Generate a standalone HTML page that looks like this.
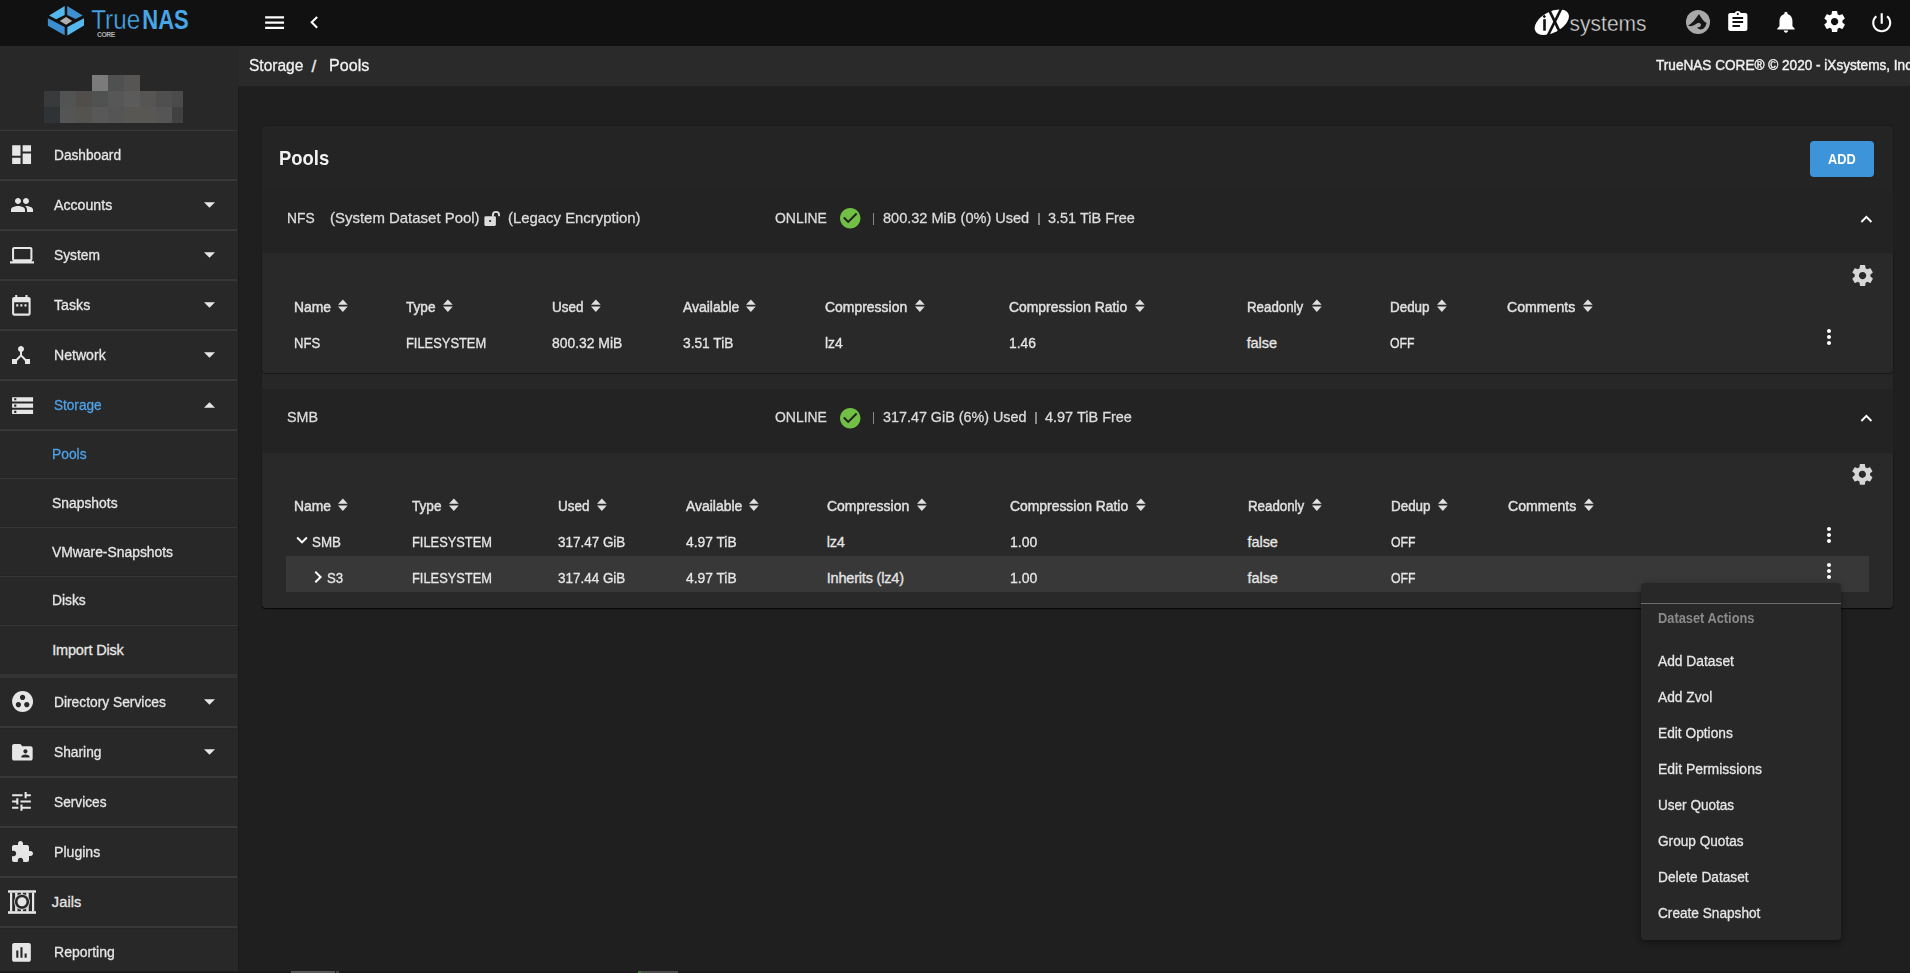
<!DOCTYPE html>
<html><head><meta charset="utf-8"><style>
html,body{margin:0;padding:0;}
body{width:1910px;height:973px;overflow:hidden;position:relative;background:#1f1f1f;font-family:"Liberation Sans",sans-serif;}
body>div,body>svg{position:absolute;}
.t{white-space:nowrap;}
</style></head><body>
<div style="left:0px;top:0px;width:1910px;height:46px;background:#111111;"></div>
<div style="left:0px;top:46px;width:238px;height:925px;background:#282828;"></div>
<div style="left:238px;top:86px;width:1px;height:885px;background:#1b1b1b;"></div>
<div style="left:237px;top:46px;width:1px;height:40px;background:#252525;"></div>
<div style="left:238px;top:46px;width:1672px;height:40px;background:#2a2a2a;"></div>
<div style="left:0px;top:971px;width:1910px;height:2px;background:#1a1a1a;"></div>
<div style="left:291px;top:971px;width:44px;height:2px;background:#555555;"></div>
<div style="left:336px;top:971px;width:3px;height:2px;background:#444444;"></div>
<div style="left:638px;top:971px;width:40px;height:2px;background:#4a4a4a;"></div>
<div style="left:638px;top:971px;width:3px;height:2px;background:#3c7a32;"></div>
<svg style="left:0px;top:0px;" width="100" height="46" viewBox="0 0 100 46"><polygon fill="#55b8ec" points="49.1,15.5 64.7,6.1 64.7,14.9 56.1,19.2"/><polygon fill="#3e8fd0" points="67.2,6.1 82.7,15.5 75.6,19 67.2,14.9"/><polygon fill="#3d8ed0" points="47.9,18.2 64.7,27 64.7,35.2 47.9,25.8"/><polygon fill="#55b8ec" points="84,18.2 67.4,27 67.4,35.4 84,25.6"/><polygon fill="#b0b0b0" points="59.8,21 66.1,17 72.1,21 66.1,24.7"/></svg>
<svg style="left:88px;top:4px;" width="104" height="36" viewBox="88 4 104 36"><text x="91.2" y="28.8" font-family="Liberation Sans" font-size="27.4" fill="#48a5e6" stroke="#111111" stroke-width="0.35" textLength="49" lengthAdjust="spacingAndGlyphs">True</text><text x="142.3" y="28.8" font-family="Liberation Sans" font-weight="700" font-size="27.4" fill="#48a5e6" textLength="46.5" lengthAdjust="spacingAndGlyphs">NAS</text><text x="97.0" y="36.9" font-family="Liberation Sans" font-weight="700" font-size="6.8" fill="#b0b0b0" textLength="18.3" lengthAdjust="spacing">CORE</text></svg>
<svg style="left:261.50px;top:10.00px;" width="25.20" height="25.20" viewBox="0 0 24 24"><path fill="#ffffff" d="M3 18h18v-2H3v2zm0-5h18v-2H3v2zm0-7v2h18V6H3z"/></svg>
<svg style="left:301.50px;top:9.90px;" width="24.72" height="24.72" viewBox="0 0 24 24"><path fill="#ffffff" d="M15.41 7.41L14 6l-6 6 6 6 1.41-1.41L10.83 12z"/></svg>
<svg style="left:1530px;top:6px;" width="44" height="34" viewBox="1530 6 44 34"><defs><mask id="ixm" maskUnits="userSpaceOnUse" x="1530" y="6" width="44" height="34"><rect x="1530" y="6" width="44" height="34" fill="#fff"/><rect x="1543.2" y="19.2" width="2.6" height="11.5" fill="#000"/><rect x="1543.1" y="15.3" width="2.4" height="2.4" transform="rotate(45 1544.3 16.5)" fill="#000"/><line x1="1561.3" y1="8.5" x2="1547.9" y2="35.5" stroke="#000" stroke-width="2.7"/><line x1="1549.4" y1="10.5" x2="1559.6" y2="31.6" stroke="#000" stroke-width="2.7"/></mask></defs><g mask="url(#ixm)"><ellipse cx="1551.8" cy="22.25" rx="18.6" ry="10.4" transform="rotate(-27.9 1551.8 22.25)" fill="#ffffff"/></g></svg>
<svg style="left:1568px;top:8px;" width="90" height="32" viewBox="1568 8 90 32"><text x="1569.6" y="30.8" font-family="Liberation Sans" font-size="21.5" fill="#e0e0e0" stroke="#111111" stroke-width="0.45" textLength="77" lengthAdjust="spacingAndGlyphs">systems</text></svg>
<svg style="left:1686px;top:9.9px;" width="24" height="24" viewBox="0 0 24 24"><circle cx="12" cy="12" r="12" fill="#a9a9a9"/><path fill="#161616" d="M2.0 15.3 C5.5 14.2 9 9.5 13.0 3.9 C15.2 7.5 17.2 11.2 20.6 13.0 C19.8 16.8 17.6 19.4 14.8 19.4 C13.0 19.4 11.6 18.5 11.2 17.2 C13.4 17.6 15.0 16.4 14.9 14.7 C14.7 13.2 13.3 12.6 11.8 13.1 C8.5 14.6 6 17.6 2.0 15.3 Z"/></svg>
<svg preserveAspectRatio="none" style="left:1725.2px;top:10.0px;" width="25.6" height="24" viewBox="0 0 24 24"><path fill="#ffffff" d="M19 3h-4.18C14.4 1.84 13.3 1 12 1c-1.3 0-2.4.84-2.82 2H5c-1.1 0-2 .9-2 2v14c0 1.1.9 2 2 2h14c1.1 0 2-.9 2-2V5c0-1.1-.9-2-2-2zm-7 0c.55 0 1 .45 1 1s-.45 1-1 1-1-.45-1-1 .45-1 1-1zm2 14H7v-2h7v2zm3-4H7v-2h10v2zm0-4H7V7h10v2z"/></svg>
<svg style="left:1773.00px;top:9.00px;" width="25.92" height="25.92" viewBox="0 0 24 24"><path fill="#ffffff" d="M12 22c1.1 0 2-.9 2-2h-4c0 1.1.89 2 2 2zm6-6v-5c0-3.07-1.64-5.64-4.5-6.32V4c0-.83-.67-1.5-1.5-1.5s-1.5.67-1.5 1.5v.68C7.63 5.36 6 7.920 6 11v5l-2 2v1h16v-1l-2-2z"/></svg>
<svg style="left:1821.50px;top:9.40px;" width="25.20" height="25.20" viewBox="0 0 24 24"><path fill="#ffffff" d="M19.43 12.98c.04-.32.07-.64.07-.98s-.03-.66-.07-.98l2.11-1.65c.19-.15.24-.42.12-.64l-2-3.46c-.12-.22-.39-.3-.61-.22l-2.49 1c-.52-.4-1.08-.73-1.69-.98l-.38-2.65C14.46 2.18 14.25 2 14 2h-4c-.25 0-.46.18-.49.42l-.38 2.65c-.61.25-1.17.59-1.69.98l-2.49-1c-.23-.09-.49 0-.61.22l-2 3.46c-.13.22-.07.49.12.64l2.11 1.65c-.04.32-.07.65-.07.98s.03.66.07.98l-2.11 1.65c-.19.15-.24.42-.12.64l2 3.46c.12.22.39.3.61.22l2.49-1c.52.4 1.08.73 1.69.98l.38 2.65c.03.24.24.42.49.42h4c.25 0 .46-.18.49-.42l.38-2.65c.61-.25 1.17-.59 1.69-.98l2.49 1c.23.09.49 0 .61-.22l2-3.46c.12-.22.07-.49-.12-.64l-2.11-1.65zM12 15.5c-1.93 0-3.5-1.57-3.5-3.5s1.57-3.5 3.5-3.5 3.5 1.57 3.5 3.5-1.57 3.5-3.5 3.5z"/></svg>
<svg style="left:1869.00px;top:9.60px;" width="25.44" height="25.44" viewBox="0 0 24 24"><path fill="#ffffff" d="M13 3h-2v10h2V3zm4.83 2.17l-1.42 1.42C17.99 7.86 19 9.81 19 12c0 3.87-3.13 7-7 7s-7-3.13-7-7c0-2.19 1.01-4.14 2.58-5.42L6.17 5.17C4.23 6.82 3 9.26 3 12c0 4.97 4.03 9 9 9s9-4.03 9-9c0-2.74-1.23-5.18-3.17-6.83z"/></svg>
<div class="t" style="left:248.70px;top:57.20px;font-size:17.01px;line-height:17.01px;color:#f2f2f2;-webkit-text-stroke:0.3px #f2f2f2;transform:scaleX(0.9135);transform-origin:0 0;">Storage</div>
<div class="t" style="left:311.50px;top:57.90px;font-size:17.01px;line-height:17.01px;color:#f2f2f2;-webkit-text-stroke:0.3px #f2f2f2;">/</div>
<div class="t" style="left:328.80px;top:57.20px;font-size:17.01px;line-height:17.01px;color:#f2f2f2;-webkit-text-stroke:0.3px #f2f2f2;transform:scaleX(0.9475);transform-origin:0 0;">Pools</div>
<div class="t" style="left:1656.10px;top:57.63px;font-size:14.97px;line-height:14.97px;color:#f0f0f0;-webkit-text-stroke:0.45px #f0f0f0;transform:scaleX(0.9081);transform-origin:0 0;">TrueNAS CORE® © 2020 - iXsystems, Inc</div>
<div style="left:92px;top:75px;width:16px;height:16px;background:#7b7b7b;"></div>
<div style="left:108px;top:75px;width:16px;height:16px;background:#4f5150;"></div>
<div style="left:124px;top:75px;width:16px;height:16px;background:#575553;"></div>
<div style="left:44px;top:91px;width:16px;height:16px;background:#393a3c;"></div>
<div style="left:60px;top:91px;width:16px;height:16px;background:#525453;"></div>
<div style="left:76px;top:91px;width:16px;height:16px;background:#504d4b;"></div>
<div style="left:92px;top:91px;width:16px;height:16px;background:#505251;"></div>
<div style="left:108px;top:91px;width:16px;height:16px;background:#575757;"></div>
<div style="left:124px;top:91px;width:16px;height:16px;background:#5b5b5b;"></div>
<div style="left:140px;top:91px;width:16px;height:16px;background:#565553;"></div>
<div style="left:156px;top:91px;width:16px;height:16px;background:#4f4f4f;"></div>
<div style="left:172px;top:91px;width:11px;height:16px;background:#4b4b4b;"></div>
<div style="left:44px;top:107px;width:16px;height:16px;background:#2f3336;"></div>
<div style="left:60px;top:107px;width:16px;height:16px;background:#555555;"></div>
<div style="left:76px;top:107px;width:16px;height:16px;background:#55534f;"></div>
<div style="left:92px;top:107px;width:16px;height:16px;background:#585858;"></div>
<div style="left:108px;top:107px;width:16px;height:16px;background:#555555;"></div>
<div style="left:124px;top:107px;width:16px;height:16px;background:#595753;"></div>
<div style="left:140px;top:107px;width:16px;height:16px;background:#585754;"></div>
<div style="left:156px;top:107px;width:16px;height:16px;background:#555555;"></div>
<div style="left:172px;top:107px;width:11px;height:16px;background:#3f4241;"></div>
<div style="left:0px;top:130px;width:237px;height:1px;background:#383838;"></div>
<div style="left:0px;top:178px;width:237px;height:1px;background:#252525;"></div>
<div style="left:0px;top:179px;width:237px;height:2px;background:#383838;"></div>
<div style="left:0px;top:228px;width:237px;height:1px;background:#252525;"></div>
<div style="left:0px;top:229px;width:237px;height:2px;background:#383838;"></div>
<div style="left:0px;top:278px;width:237px;height:1px;background:#252525;"></div>
<div style="left:0px;top:279px;width:237px;height:2px;background:#383838;"></div>
<div style="left:0px;top:328px;width:237px;height:1px;background:#252525;"></div>
<div style="left:0px;top:329px;width:237px;height:2px;background:#383838;"></div>
<div style="left:0px;top:378px;width:237px;height:1px;background:#252525;"></div>
<div style="left:0px;top:379px;width:237px;height:2px;background:#383838;"></div>
<div style="left:0px;top:428px;width:237px;height:1px;background:#252525;"></div>
<div style="left:0px;top:429px;width:237px;height:2px;background:#383838;"></div>
<div style="left:0px;top:477px;width:237px;height:1px;background:#252525;"></div>
<div style="left:0px;top:478px;width:237px;height:1px;background:#383838;"></div>
<div style="left:0px;top:526px;width:237px;height:1px;background:#252525;"></div>
<div style="left:0px;top:527px;width:237px;height:1px;background:#383838;"></div>
<div style="left:0px;top:575px;width:237px;height:1px;background:#252525;"></div>
<div style="left:0px;top:576px;width:237px;height:1px;background:#383838;"></div>
<div style="left:0px;top:624px;width:237px;height:1px;background:#252525;"></div>
<div style="left:0px;top:625px;width:237px;height:1px;background:#383838;"></div>
<div style="left:0px;top:674px;width:237px;height:4px;background:#333333;"></div>
<div style="left:0px;top:726px;width:237px;height:2px;background:#383838;"></div>
<div style="left:0px;top:728px;width:237px;height:1px;background:#252525;"></div>
<div style="left:0px;top:776px;width:237px;height:2px;background:#383838;"></div>
<div style="left:0px;top:778px;width:237px;height:1px;background:#252525;"></div>
<div style="left:0px;top:826px;width:237px;height:2px;background:#383838;"></div>
<div style="left:0px;top:828px;width:237px;height:1px;background:#252525;"></div>
<div style="left:0px;top:876px;width:237px;height:2px;background:#383838;"></div>
<div style="left:0px;top:878px;width:237px;height:1px;background:#252525;"></div>
<div style="left:0px;top:926px;width:237px;height:2px;background:#383838;"></div>
<div style="left:0px;top:928px;width:237px;height:1px;background:#252525;"></div>
<div class="t" style="left:54.20px;top:148.10px;font-size:14.53px;line-height:14.53px;color:#e6e6e6;-webkit-text-stroke:0.3px #e6e6e6;transform:scaleX(0.9437);transform-origin:0 0;">Dashboard</div>
<svg style="left:9.15px;top:142.30px;" width="25.20" height="25.20" viewBox="0 0 24 24"><path fill="#e6e6e6" d="M3 13h8V3H3v10zm0 8h8v-6H3v6zm10 0h8V11h-8v10zm0-18v6h8V3h-8z"/></svg>
<div class="t" style="left:54.20px;top:198.10px;font-size:14.53px;line-height:14.53px;color:#e6e6e6;-webkit-text-stroke:0.3px #e6e6e6;transform:scaleX(0.9752);transform-origin:0 0;">Accounts</div>
<svg style="left:9.50px;top:192.90px;" width="24.00" height="24.00" viewBox="0 0 24 24"><path fill="#e6e6e6" d="M16 11c1.66 0 2.99-1.34 2.99-3S17.66 5 16 5c-1.66 0-3 1.34-3 3s1.34 3 3 3zm-8 0c1.66 0 2.99-1.34 2.99-3S9.66 5 8 5C6.34 5 5 6.34 5 8s1.34 3 3 3zm0 2c-2.33 0-7 1.17-7 3.5V19h14v-2.5c0-2.33-4.670-3.5-7-3.5zm8 0c-.29 0-.62.02-.97.05 1.16.84 1.97 1.97 1.97 3.45V19h6v-2.5c0-2.33-4.67-3.5-7-3.5z"/></svg>
<svg style="left:203.6px;top:201.6px;" width="11" height="6" viewBox="0 0 10 5"><path fill="#e6e6e6" d="M0 0 L10 0 L5 5 Z"/></svg>
<div class="t" style="left:54.20px;top:248.10px;font-size:14.53px;line-height:14.53px;color:#e6e6e6;-webkit-text-stroke:0.3px #e6e6e6;transform:scaleX(0.9493);transform-origin:0 0;">System</div>
<svg style="left:10.00px;top:242.80px;" width="24.48" height="24.48" viewBox="0 0 24 24"><path fill="#e6e6e6" d="M20 18c1.1 0 1.99-.9 1.99-2L22 6c0-1.1-.9-2-2-2H4c-1.1 0-2 .9-2 2v10c0 1.1.9 2 2 2H0v2h24v-2h-4zM4 6h16v10H4V6z"/></svg>
<svg style="left:203.6px;top:251.60000000000002px;" width="11" height="6" viewBox="0 0 10 5"><path fill="#e6e6e6" d="M0 0 L10 0 L5 5 Z"/></svg>
<div class="t" style="left:54.20px;top:298.10px;font-size:14.53px;line-height:14.53px;color:#e6e6e6;-webkit-text-stroke:0.3px #e6e6e6;transform:scaleX(0.9771);transform-origin:0 0;">Tasks</div>
<svg style="left:9.30px;top:292.70px;" width="24.72" height="24.72" viewBox="0 0 24 24"><path fill="#e6e6e6" d="M9 11H7v2h2v-2zm4 0h-2v2h2v-2zm4 0h-2v2h2v-2zm2-7h-1V2h-2v2H8V2H6v2H5c-1.11 0-1.99.9-1.99 2L3 20c0 1.1.89 2 2 2h14c1.1 0 2-.9 2-2V6c0-1.1-.9-2-2-2zm0 16H5V9h14v11z"/></svg>
<svg style="left:203.6px;top:301.6px;" width="11" height="6" viewBox="0 0 10 5"><path fill="#e6e6e6" d="M0 0 L10 0 L5 5 Z"/></svg>
<div class="t" style="left:54.20px;top:348.10px;font-size:14.53px;line-height:14.53px;color:#e6e6e6;-webkit-text-stroke:0.3px #e6e6e6;transform:scaleX(0.9711);transform-origin:0 0;">Network</div>
<svg style="left:9.30px;top:343.00px;" width="24.00" height="24.00" viewBox="0 0 24 24"><path fill="#e6e6e6" d="M17 16l-4-4V8.82C14.16 8.4 15 7.3 15 6c0-1.66-1.34-3-3-3S9 4.34 9 6c0 1.3.84 2.4 2 2.82V12l-4 4H3v5h5v-3.05l4-4.2 4 4.2V21h5v-5h-4z"/></svg>
<svg style="left:203.6px;top:351.6px;" width="11" height="6" viewBox="0 0 10 5"><path fill="#e6e6e6" d="M0 0 L10 0 L5 5 Z"/></svg>
<div class="t" style="left:54.20px;top:398.10px;font-size:14.53px;line-height:14.53px;color:#4ea1e6;-webkit-text-stroke:0.3px #4ea1e6;transform:scaleX(0.9351);transform-origin:0 0;">Storage</div>
<svg style="left:9.50px;top:392.60px;" width="25.20" height="25.20" viewBox="0 0 24 24"><path fill="#e6e6e6" d="M2 20h20v-4H2v4zm2-3h2v2H4v-2zM2 4v4h20V4H2zm4 3H4V5h2v2zm-4 7h20v-4H2v4zm2-3h2v2H4v-2z"/></svg>
<svg style="left:203.6px;top:401.6px;" width="11" height="6" viewBox="0 0 10 5"><path fill="#e6e6e6" d="M0 5 L5 0 L10 5 Z"/></svg>
<div class="t" style="left:54.20px;top:695.40px;font-size:14.53px;line-height:14.53px;color:#e6e6e6;-webkit-text-stroke:0.3px #e6e6e6;transform:scaleX(0.9498);transform-origin:0 0;">Directory Services</div>
<svg style="left:9.60px;top:689.40px;" width="25.20" height="25.20" viewBox="0 0 24 24"><path fill="#e6e6e6" d="M12 2C6.48 2 2 6.48 2 12s4.48 10 10 10 10-4.48 10-10S17.52 2 12 2zM8 17.5c-1.38 0-2.5-1.12-2.5-2.5s1.12-2.5 2.5-2.5 2.5 1.12 2.5 2.5-1.12 2.5-2.5 2.5zM9.5 8c0-1.38 1.120-2.5 2.5-2.5s2.5 1.12 2.5 2.5-1.12 2.5-2.5 2.5S9.5 9.38 9.5 8zm6.5 9.5c-1.38 0-2.5-1.12-2.5-2.5s1.12-2.5 2.5-2.5 2.5 1.12 2.5 2.5-1.12 2.5-2.5 2.5z"/></svg>
<svg style="left:203.6px;top:698.9px;" width="11" height="6" viewBox="0 0 10 5"><path fill="#e6e6e6" d="M0 0 L10 0 L5 5 Z"/></svg>
<div class="t" style="left:54.20px;top:745.30px;font-size:14.53px;line-height:14.53px;color:#e6e6e6;-webkit-text-stroke:0.3px #e6e6e6;transform:scaleX(0.9481);transform-origin:0 0;">Sharing</div>
<svg style="left:9.64px;top:739.78px;" width="24.72" height="24.72" viewBox="0 0 24 24"><path fill="#e6e6e6" d="M20 6h-8l-2-2H4c-1.1 0-1.99.9-1.99 2L2 18c0 1.1.9 2 2 2h16c1.1 0 2-.9 2-2V8c0-1.1-.9-2-2-2zm-5 3c1.1 0 2 .9 2 2s-.9 2-2 2-2-.9-2-2 .9-2 2-2zm4 8h-8v-1c0-1.33 2.67-2 4-2s4 .67 4 2v1z"/></svg>
<svg style="left:203.6px;top:748.8px;" width="11" height="6" viewBox="0 0 10 5"><path fill="#e6e6e6" d="M0 0 L10 0 L5 5 Z"/></svg>
<div class="t" style="left:54.20px;top:794.80px;font-size:14.53px;line-height:14.53px;color:#e6e6e6;-webkit-text-stroke:0.3px #e6e6e6;transform:scaleX(0.9436);transform-origin:0 0;">Services</div>
<svg style="left:9.38px;top:789.20px;" width="24.96" height="24.96" viewBox="0 0 24 24"><path fill="#e6e6e6" d="M3 17v2h6v-2H3zM3 5v2h10V5H3zm10 16v-2h8v-2h-8v-2h-2v6h2zM7 9v2H3v2h4v2h2V9H7zm14 4v-2H11v2h10zm-6-4h2V7h4V5h-4V3h-2v6z"/></svg>
<div class="t" style="left:54.20px;top:844.70px;font-size:14.53px;line-height:14.53px;color:#e6e6e6;-webkit-text-stroke:0.3px #e6e6e6;transform:scaleX(0.9712);transform-origin:0 0;">Plugins</div>
<svg style="left:9.80px;top:840.00px;" width="24.00" height="24.00" viewBox="0 0 24 24"><path fill="#e6e6e6" d="M20.5 11H19V7c0-1.1-.9-2-2-2h-4V3.5C13 2.12 11.880 1 10.5 1S8 2.12 8 3.5V5H4c-1.1 0-1.99.9-1.99 2v3.8H3.5c1.49 0 2.7 1.21 2.7 2.7s-1.21 2.7-2.7 2.7H2V20c0 1.1.9 2 2 2h3.8v-1.5c0-1.49 1.21-2.7 2.7-2.7 1.49 0 2.7 1.21 2.7 2.7V22H17c1.1 0 2-.9 2-2v-4h1.5c1.38 0 2.5-1.12 2.5-2.5S21.88 11 20.5 11z"/></svg>
<div class="t" style="left:51.80px;top:894.70px;font-size:14.53px;line-height:14.53px;color:#e6e6e6;-webkit-text-stroke:0.3px #e6e6e6;letter-spacing:0.129px;">Jails</div>
<div class="t" style="left:54.20px;top:944.70px;font-size:14.53px;line-height:14.53px;color:#e6e6e6;-webkit-text-stroke:0.3px #e6e6e6;transform:scaleX(0.9663);transform-origin:0 0;">Reporting</div>
<svg style="left:9.38px;top:940.00px;" width="24.96" height="24.96" viewBox="0 0 24 24"><path fill="#e6e6e6" d="M19 3H5c-1.1 0-2 .9-2 2v14c0 1.1.9 2 2 2h14c1.1 0 2-.9 2-2V5c0-1.1-.9-2-2-2zM9 17H7v-7h2v7zm4 0h-2V7h2v10zm4 0h-2v-4h2v4z"/></svg>
<svg style="left:7px;top:889px;" width="30" height="26" viewBox="0 0 30 26"><rect x="1" y="1.3" width="28" height="2.4" fill="#e6e6e6"/><rect x="1" y="22.2" width="28" height="2.6" fill="#e6e6e6"/><rect x="3" y="3.5" width="2.2" height="19" fill="#e6e6e6"/><rect x="8.1" y="3.5" width="2.4" height="19" fill="#e6e6e6"/><rect x="14" y="3.5" width="1.9" height="19" fill="#e6e6e6"/><rect x="19.2" y="3.5" width="2.5" height="19" fill="#e6e6e6"/><rect x="25" y="3.5" width="2.2" height="19" fill="#e6e6e6"/><circle cx="15" cy="12.8" r="7.9" fill="#d0d0d0"/><circle cx="15" cy="12.8" r="7.1" fill="#282828"/><circle cx="15" cy="12.8" r="4.5" fill="#e6e6e6"/></svg>
<div class="t" style="left:52.20px;top:447.00px;font-size:14.53px;line-height:14.53px;color:#4ea1e6;-webkit-text-stroke:0.3px #4ea1e6;transform:scaleX(0.9518);transform-origin:0 0;">Pools</div>
<div class="t" style="left:52.20px;top:495.50px;font-size:14.53px;line-height:14.53px;color:#e6e6e6;-webkit-text-stroke:0.3px #e6e6e6;transform:scaleX(0.9564);transform-origin:0 0;">Snapshots</div>
<div class="t" style="left:52.20px;top:544.60px;font-size:14.53px;line-height:14.53px;color:#e6e6e6;-webkit-text-stroke:0.3px #e6e6e6;transform:scaleX(0.9556);transform-origin:0 0;">VMware-Snapshots</div>
<div class="t" style="left:52.20px;top:593.20px;font-size:14.53px;line-height:14.53px;color:#e6e6e6;-webkit-text-stroke:0.3px #e6e6e6;transform:scaleX(0.9515);transform-origin:0 0;">Disks</div>
<div class="t" style="left:52.20px;top:642.60px;font-size:14.53px;line-height:14.53px;color:#e6e6e6;-webkit-text-stroke:0.3px #e6e6e6;letter-spacing:-0.172px;">Import Disk</div>
<div style="left:262px;top:126px;width:1631px;height:482px;background:#242424;border-radius:4px;box-shadow:0 1px 1px rgba(0,0,0,0.55),0 -1px 1px rgba(0,0,0,0.15);"></div>
<div style="left:262px;top:373px;width:1631px;height:16px;background:#272727;"></div>
<div class="t" style="left:278.70px;top:147.93px;font-size:20.64px;line-height:20.64px;color:#f2f2f2;font-weight:700;transform:scaleX(0.8932);transform-origin:0 0;">Pools</div>
<div style="left:1810px;top:141px;width:64px;height:36px;background:#3d94d9;border-radius:4px;"></div>
<div class="t" style="left:1827.60px;top:151.84px;font-size:14.24px;line-height:14.24px;color:#ffffff;font-weight:700;transform:scaleX(0.8942);transform-origin:0 0;">ADD</div>
<div style="left:262px;top:189px;width:1631px;height:64px;background:#232323;"></div>
<div style="left:262px;top:253px;width:1631px;height:120px;background:#292929;box-shadow:0 1px 1px rgba(0,0,0,0.42);border-radius:0 0 4px 4px;"></div>
<div style="left:262px;top:389px;width:1631px;height:64px;background:#232323;"></div>
<div style="left:262px;top:453px;width:1631px;height:155px;background:#292929;box-shadow:0 1px 1px rgba(0,0,0,0.42);border-radius:0 0 4px 4px;"></div>
<div class="t" style="left:286.50px;top:210.06px;font-size:15.41px;line-height:15.41px;color:#dcdcdc;-webkit-text-stroke:0.3px #dcdcdc;transform:scaleX(0.8957);transform-origin:0 0;">NFS</div>
<div class="t" style="left:330.10px;top:210.06px;font-size:15.41px;line-height:15.41px;color:#dcdcdc;-webkit-text-stroke:0.3px #dcdcdc;transform:scaleX(0.9707);transform-origin:0 0;">(System Dataset Pool)</div>
<svg style="left:482px;top:209px;" width="20" height="20" viewBox="0 0 20 20"><rect x="2.4" y="7.2" width="11.5" height="9.7" rx="1.3" fill="#dcdcdc"/><circle cx="8.1" cy="12" r="1.1" fill="#232323"/><path d="M10.9 7.8 V6 A3.1 3.1 0 0 1 17.1 6 V7.3" fill="none" stroke="#dcdcdc" stroke-width="1.9"/></svg>
<div class="t" style="left:507.50px;top:210.06px;font-size:15.41px;line-height:15.41px;color:#dcdcdc;-webkit-text-stroke:0.3px #dcdcdc;transform:scaleX(0.9671);transform-origin:0 0;">(Legacy Encryption)</div>
<div class="t" style="left:775.10px;top:209.96px;font-size:15.41px;line-height:15.41px;color:#dcdcdc;-webkit-text-stroke:0.3px #dcdcdc;transform:scaleX(0.9048);transform-origin:0 0;">ONLINE</div>
<svg style="left:838.16px;top:206.46px;" width="24.48" height="24.48" viewBox="0 0 24 24"><path fill="#71bf44" d="M12 2C6.48 2 2 6.48 2 12s4.48 10 10 10 10-4.48 10-10S17.52 2 12 2zm-2 15l-5-5 1.41-1.41L10 14.17l7.59-7.59L19 8l-9 9z"/></svg>
<svg style="left:839.5px;top:207.7px;" width="22" height="22" viewBox="0 0 22 22"></svg>
<div style="left:872.5px;top:212.5px;width:1.6px;height:12px;background:#8a8a8a;"></div>
<div class="t" style="left:882.50px;top:209.96px;font-size:15.41px;line-height:15.41px;color:#dcdcdc;-webkit-text-stroke:0.3px #dcdcdc;transform:scaleX(0.9433);transform-origin:0 0;">800.32 MiB (0%) Used</div>
<div style="left:1038px;top:212.5px;width:1.6px;height:12px;background:#8a8a8a;"></div>
<div class="t" style="left:1048.00px;top:209.96px;font-size:15.41px;line-height:15.41px;color:#dcdcdc;-webkit-text-stroke:0.3px #dcdcdc;transform:scaleX(0.9396);transform-origin:0 0;">3.51 TiB Free</div>
<svg style="left:1854.70px;top:207.60px;" width="22.80" height="22.80" viewBox="0 0 24 24"><path fill="#ffffff" d="M12 8l-6 6 1.41 1.41L12 10.83l4.59 4.58L18 14z"/></svg>
<div class="t" style="left:286.60px;top:409.26px;font-size:15.41px;line-height:15.41px;color:#dcdcdc;-webkit-text-stroke:0.3px #dcdcdc;transform:scaleX(0.9285);transform-origin:0 0;">SMB</div>
<div class="t" style="left:775.10px;top:408.96px;font-size:15.41px;line-height:15.41px;color:#dcdcdc;-webkit-text-stroke:0.3px #dcdcdc;transform:scaleX(0.9048);transform-origin:0 0;">ONLINE</div>
<svg style="left:838.16px;top:405.56px;" width="24.48" height="24.48" viewBox="0 0 24 24"><path fill="#71bf44" d="M12 2C6.48 2 2 6.48 2 12s4.48 10 10 10 10-4.48 10-10S17.52 2 12 2zm-2 15l-5-5 1.41-1.41L10 14.17l7.59-7.59L19 8l-9 9z"/></svg>
<svg style="left:839.5px;top:406.8px;" width="22" height="22" viewBox="0 0 22 22"></svg>
<div style="left:872.5px;top:411.5px;width:1.6px;height:12px;background:#8a8a8a;"></div>
<div class="t" style="left:882.50px;top:408.96px;font-size:15.41px;line-height:15.41px;color:#dcdcdc;-webkit-text-stroke:0.3px #dcdcdc;transform:scaleX(0.9309);transform-origin:0 0;">317.47 GiB (6%) Used</div>
<div style="left:1035px;top:411.5px;width:1.6px;height:12px;background:#8a8a8a;"></div>
<div class="t" style="left:1044.80px;top:408.96px;font-size:15.41px;line-height:15.41px;color:#dcdcdc;-webkit-text-stroke:0.3px #dcdcdc;transform:scaleX(0.9396);transform-origin:0 0;">4.97 TiB Free</div>
<svg style="left:1854.70px;top:406.60px;" width="22.80" height="22.80" viewBox="0 0 24 24"><path fill="#ffffff" d="M12 8l-6 6 1.41 1.41L12 10.83l4.59 4.58L18 14z"/></svg>
<svg style="left:1849.59px;top:262.74px;" width="25.20" height="25.20" viewBox="0 0 24 24"><path fill="#d6d6d6" d="M19.43 12.98c.04-.32.07-.64.07-.98s-.03-.66-.07-.98l2.11-1.65c.19-.15.24-.42.12-.64l-2-3.46c-.12-.22-.39-.3-.61-.22l-2.49 1c-.52-.4-1.08-.73-1.69-.98l-.38-2.65C14.46 2.18 14.25 2 14 2h-4c-.25 0-.46.18-.49.42l-.38 2.65c-.61.25-1.17.59-1.69.98l-2.49-1c-.23-.09-.49 0-.61.22l-2 3.46c-.13.22-.07.49.12.64l2.11 1.65c-.04.32-.07.65-.07.98s.03.66.07.98l-2.11 1.65c-.19.15-.24.42-.12.64l2 3.46c.12.22.39.3.61.22l2.49-1c.52.4 1.08.73 1.69.98l.38 2.65c.03.24.24.42.49.42h4c.25 0 .46-.18.49-.42l.38-2.65c.61-.25 1.17-.59 1.69-.98l2.49 1c.23.09.49 0 .61-.22l2-3.46c.12-.22.07-.49-.12-.64l-2.11-1.65zM12 15.5c-1.93 0-3.5-1.57-3.5-3.5s1.57-3.5 3.5-3.5 3.5 1.57 3.5 3.5-1.57 3.5-3.5 3.5z"/></svg>
<svg style="left:1850.43px;top:462.00px;" width="24.72" height="24.72" viewBox="0 0 24 24"><path fill="#d6d6d6" d="M19.43 12.98c.04-.32.07-.64.07-.98s-.03-.66-.07-.98l2.11-1.65c.19-.15.24-.42.12-.64l-2-3.46c-.12-.22-.39-.3-.61-.22l-2.49 1c-.52-.4-1.08-.73-1.69-.98l-.38-2.65C14.46 2.18 14.25 2 14 2h-4c-.25 0-.46.18-.49.42l-.38 2.65c-.61.25-1.17.59-1.69.98l-2.49-1c-.23-.09-.49 0-.61.22l-2 3.46c-.13.22-.07.49.12.64l2.11 1.65c-.04.32-.07.65-.07.98s.03.66.07.98l-2.11 1.65c-.19.15-.24.42-.12.64l2 3.46c.12.22.39.3.61.22l2.49-1c.52.4 1.08.73 1.69.98l.38 2.65c.03.24.24.42.49.42h4c.25 0 .46-.18.49-.42l.38-2.65c.61-.25 1.17-.59 1.69-.98l2.49 1c.23.09.49 0 .61-.22l2-3.46c.12-.22.07-.49-.12-.64l-2.11-1.65zM12 15.5c-1.93 0-3.5-1.57-3.5-3.5s1.57-3.5 3.5-3.5 3.5 1.57 3.5 3.5-1.57 3.5-3.5 3.5z"/></svg>
<div class="t" style="left:293.90px;top:300.00px;font-size:14.53px;line-height:14.53px;color:#e0e0e0;-webkit-text-stroke:0.45px #e0e0e0;transform:scaleX(0.9541);transform-origin:0 0;">Name</div>
<svg style="left:337.40px;top:298.30px;" width="12" height="16" viewBox="337.40 298.30 12 16"><path fill="#e0e0e0" d="M338.40 305.10 L348.10 305.10 L343.25 299.90 Z M338.40 306.90 L348.10 306.90 L343.25 312.30 Z"/></svg>
<div class="t" style="left:405.70px;top:300.00px;font-size:14.53px;line-height:14.53px;color:#e0e0e0;-webkit-text-stroke:0.45px #e0e0e0;transform:scaleX(0.9362);transform-origin:0 0;">Type</div>
<svg style="left:442.30px;top:298.30px;" width="12" height="16" viewBox="442.30 298.30 12 16"><path fill="#e0e0e0" d="M443.30 305.10 L453.00 305.10 L448.15 299.90 Z M443.30 306.90 L453.00 306.90 L448.15 312.30 Z"/></svg>
<div class="t" style="left:551.60px;top:300.00px;font-size:14.53px;line-height:14.53px;color:#e0e0e0;-webkit-text-stroke:0.45px #e0e0e0;transform:scaleX(0.9285);transform-origin:0 0;">Used</div>
<svg style="left:589.60px;top:298.30px;" width="12" height="16" viewBox="589.60 298.30 12 16"><path fill="#e0e0e0" d="M590.60 305.10 L600.30 305.10 L595.45 299.90 Z M590.60 306.90 L600.30 306.90 L595.45 312.30 Z"/></svg>
<div class="t" style="left:682.60px;top:300.00px;font-size:14.53px;line-height:14.53px;color:#e0e0e0;-webkit-text-stroke:0.45px #e0e0e0;transform:scaleX(0.9588);transform-origin:0 0;">Available</div>
<svg style="left:745.20px;top:298.30px;" width="12" height="16" viewBox="745.20 298.30 12 16"><path fill="#e0e0e0" d="M746.20 305.10 L755.90 305.10 L751.05 299.90 Z M746.20 306.90 L755.90 306.90 L751.05 312.30 Z"/></svg>
<div class="t" style="left:824.60px;top:300.00px;font-size:14.53px;line-height:14.53px;color:#e0e0e0;-webkit-text-stroke:0.45px #e0e0e0;transform:scaleX(0.9612);transform-origin:0 0;">Compression</div>
<svg style="left:914.10px;top:298.30px;" width="12" height="16" viewBox="914.10 298.30 12 16"><path fill="#e0e0e0" d="M915.10 305.10 L924.80 305.10 L919.95 299.90 Z M915.10 306.90 L924.80 306.90 L919.95 312.30 Z"/></svg>
<div class="t" style="left:1008.70px;top:300.00px;font-size:14.53px;line-height:14.53px;color:#e0e0e0;-webkit-text-stroke:0.45px #e0e0e0;transform:scaleX(0.9572);transform-origin:0 0;">Compression Ratio</div>
<svg style="left:1134.10px;top:298.30px;" width="12" height="16" viewBox="1134.10 298.30 12 16"><path fill="#e0e0e0" d="M1135.10 305.10 L1144.80 305.10 L1139.95 299.90 Z M1135.10 306.90 L1144.80 306.90 L1139.95 312.30 Z"/></svg>
<div class="t" style="left:1246.70px;top:300.00px;font-size:14.53px;line-height:14.53px;color:#e0e0e0;-webkit-text-stroke:0.45px #e0e0e0;transform:scaleX(0.9168);transform-origin:0 0;">Readonly</div>
<svg style="left:1310.80px;top:298.30px;" width="12" height="16" viewBox="1310.80 298.30 12 16"><path fill="#e0e0e0" d="M1311.80 305.10 L1321.50 305.10 L1316.65 299.90 Z M1311.80 306.90 L1321.50 306.90 L1316.65 312.30 Z"/></svg>
<div class="t" style="left:1389.80px;top:300.00px;font-size:14.53px;line-height:14.53px;color:#e0e0e0;-webkit-text-stroke:0.45px #e0e0e0;transform:scaleX(0.9245);transform-origin:0 0;">Dedup</div>
<svg style="left:1436.40px;top:298.30px;" width="12" height="16" viewBox="1436.40 298.30 12 16"><path fill="#e0e0e0" d="M1437.40 305.10 L1447.10 305.10 L1442.25 299.90 Z M1437.40 306.90 L1447.10 306.90 L1442.25 312.30 Z"/></svg>
<div class="t" style="left:1506.60px;top:300.00px;font-size:14.53px;line-height:14.53px;color:#e0e0e0;-webkit-text-stroke:0.45px #e0e0e0;transform:scaleX(0.9733);transform-origin:0 0;">Comments</div>
<svg style="left:1581.70px;top:298.30px;" width="12" height="16" viewBox="1581.70 298.30 12 16"><path fill="#e0e0e0" d="M1582.70 305.10 L1592.40 305.10 L1587.55 299.90 Z M1582.70 306.90 L1592.40 306.90 L1587.55 312.30 Z"/></svg>
<div class="t" style="left:293.50px;top:336.30px;font-size:14.53px;line-height:14.53px;color:#e6e6e6;-webkit-text-stroke:0.3px #e6e6e6;transform:scaleX(0.9013);transform-origin:0 0;">NFS</div>
<div class="t" style="left:405.70px;top:336.30px;font-size:14.53px;line-height:14.53px;color:#e6e6e6;-webkit-text-stroke:0.3px #e6e6e6;transform:scaleX(0.8876);transform-origin:0 0;">FILESYSTEM</div>
<div class="t" style="left:551.60px;top:336.30px;font-size:14.53px;line-height:14.53px;color:#e6e6e6;-webkit-text-stroke:0.3px #e6e6e6;transform:scaleX(0.9574);transform-origin:0 0;">800.32 MiB</div>
<div class="t" style="left:682.60px;top:336.30px;font-size:14.53px;line-height:14.53px;color:#e6e6e6;-webkit-text-stroke:0.3px #e6e6e6;transform:scaleX(0.9451);transform-origin:0 0;">3.51 TiB</div>
<div class="t" style="left:824.60px;top:336.30px;font-size:14.53px;line-height:14.53px;color:#e6e6e6;-webkit-text-stroke:0.3px #e6e6e6;transform:scaleX(0.9582);transform-origin:0 0;">lz4</div>
<div class="t" style="left:1008.70px;top:336.30px;font-size:14.53px;line-height:14.53px;color:#e6e6e6;-webkit-text-stroke:0.3px #e6e6e6;transform:scaleX(0.9510);transform-origin:0 0;">1.46</div>
<div class="t" style="left:1246.70px;top:336.30px;font-size:14.53px;line-height:14.53px;color:#e6e6e6;-webkit-text-stroke:0.3px #e6e6e6;letter-spacing:-0.099px;">false</div>
<div class="t" style="left:1389.80px;top:336.30px;font-size:14.53px;line-height:14.53px;color:#e6e6e6;-webkit-text-stroke:0.3px #e6e6e6;transform:scaleX(0.8462);transform-origin:0 0;">OFF</div>
<svg style="left:1816.60px;top:324.50px;" width="24.00" height="24.00" viewBox="0 0 24 24"><path fill="#ffffff" d="M12 8c1.1 0 2-.9 2-2s-.9-2-2-2-2 .9-2 2 .9 2 2 2zm0 2c-1.1 0-2 .9-2 2s.9 2 2 2 2-.9 2-2-.9-2-2-2zm0 6c-1.1 0-2 .9-2 2s.9 2 2 2 2-.9 2-2-.9-2-2-2z"/></svg>
<div style="left:286px;top:556px;width:1583px;height:36px;background:#383838;"></div>
<div class="t" style="left:293.50px;top:499.10px;font-size:14.53px;line-height:14.53px;color:#e0e0e0;-webkit-text-stroke:0.45px #e0e0e0;transform:scaleX(0.9541);transform-origin:0 0;">Name</div>
<svg style="left:337.20px;top:497.40px;" width="12" height="16" viewBox="337.20 497.40 12 16"><path fill="#e0e0e0" d="M338.20 504.20 L347.90 504.20 L343.05 499.00 Z M338.20 506.00 L347.90 506.00 L343.05 511.40 Z"/></svg>
<div class="t" style="left:411.60px;top:499.10px;font-size:14.53px;line-height:14.53px;color:#e0e0e0;-webkit-text-stroke:0.45px #e0e0e0;transform:scaleX(0.9362);transform-origin:0 0;">Type</div>
<svg style="left:448.20px;top:497.40px;" width="12" height="16" viewBox="448.20 497.40 12 16"><path fill="#e0e0e0" d="M449.20 504.20 L458.90 504.20 L454.05 499.00 Z M449.20 506.00 L458.90 506.00 L454.05 511.40 Z"/></svg>
<div class="t" style="left:557.60px;top:499.10px;font-size:14.53px;line-height:14.53px;color:#e0e0e0;-webkit-text-stroke:0.45px #e0e0e0;transform:scaleX(0.9285);transform-origin:0 0;">Used</div>
<svg style="left:596.20px;top:497.40px;" width="12" height="16" viewBox="596.20 497.40 12 16"><path fill="#e0e0e0" d="M597.20 504.20 L606.90 504.20 L602.05 499.00 Z M597.20 506.00 L606.90 506.00 L602.05 511.40 Z"/></svg>
<div class="t" style="left:685.70px;top:499.10px;font-size:14.53px;line-height:14.53px;color:#e0e0e0;-webkit-text-stroke:0.45px #e0e0e0;transform:scaleX(0.9588);transform-origin:0 0;">Available</div>
<svg style="left:748.20px;top:497.40px;" width="12" height="16" viewBox="748.20 497.40 12 16"><path fill="#e0e0e0" d="M749.20 504.20 L758.90 504.20 L754.05 499.00 Z M749.20 506.00 L758.90 506.00 L754.05 511.40 Z"/></svg>
<div class="t" style="left:826.70px;top:499.10px;font-size:14.53px;line-height:14.53px;color:#e0e0e0;-webkit-text-stroke:0.45px #e0e0e0;transform:scaleX(0.9612);transform-origin:0 0;">Compression</div>
<svg style="left:915.80px;top:497.40px;" width="12" height="16" viewBox="915.80 497.40 12 16"><path fill="#e0e0e0" d="M916.80 504.20 L926.50 504.20 L921.65 499.00 Z M916.80 506.00 L926.50 506.00 L921.65 511.40 Z"/></svg>
<div class="t" style="left:1009.70px;top:499.10px;font-size:14.53px;line-height:14.53px;color:#e0e0e0;-webkit-text-stroke:0.45px #e0e0e0;transform:scaleX(0.9572);transform-origin:0 0;">Compression Ratio</div>
<svg style="left:1135.10px;top:497.40px;" width="12" height="16" viewBox="1135.10 497.40 12 16"><path fill="#e0e0e0" d="M1136.10 504.20 L1145.80 504.20 L1140.95 499.00 Z M1136.10 506.00 L1145.80 506.00 L1140.95 511.40 Z"/></svg>
<div class="t" style="left:1247.60px;top:499.10px;font-size:14.53px;line-height:14.53px;color:#e0e0e0;-webkit-text-stroke:0.45px #e0e0e0;transform:scaleX(0.9168);transform-origin:0 0;">Readonly</div>
<svg style="left:1311.30px;top:497.40px;" width="12" height="16" viewBox="1311.30 497.40 12 16"><path fill="#e0e0e0" d="M1312.30 504.20 L1322.00 504.20 L1317.15 499.00 Z M1312.30 506.00 L1322.00 506.00 L1317.15 511.40 Z"/></svg>
<div class="t" style="left:1390.50px;top:499.10px;font-size:14.53px;line-height:14.53px;color:#e0e0e0;-webkit-text-stroke:0.45px #e0e0e0;transform:scaleX(0.9245);transform-origin:0 0;">Dedup</div>
<svg style="left:1437.20px;top:497.40px;" width="12" height="16" viewBox="1437.20 497.40 12 16"><path fill="#e0e0e0" d="M1438.20 504.20 L1447.90 504.20 L1443.05 499.00 Z M1438.20 506.00 L1447.90 506.00 L1443.05 511.40 Z"/></svg>
<div class="t" style="left:1507.50px;top:499.10px;font-size:14.53px;line-height:14.53px;color:#e0e0e0;-webkit-text-stroke:0.45px #e0e0e0;transform:scaleX(0.9733);transform-origin:0 0;">Comments</div>
<svg style="left:1582.60px;top:497.40px;" width="12" height="16" viewBox="1582.60 497.40 12 16"><path fill="#e0e0e0" d="M1583.60 504.20 L1593.30 504.20 L1588.45 499.00 Z M1583.60 506.00 L1593.30 506.00 L1588.45 511.40 Z"/></svg>
<svg style="left:291.40px;top:529.42px;" width="22.01" height="22.01" viewBox="0 0 24 24"><path fill="#ffffff" d="M16.59 8.59L12 13.17 7.41 8.59 6 10l6 6 6-6z"/></svg>
<div class="t" style="left:311.50px;top:535.10px;font-size:14.53px;line-height:14.53px;color:#e6e6e6;-webkit-text-stroke:0.3px #e6e6e6;transform:scaleX(0.9207);transform-origin:0 0;">SMB</div>
<div class="t" style="left:411.50px;top:535.10px;font-size:14.53px;line-height:14.53px;color:#e6e6e6;-webkit-text-stroke:0.3px #e6e6e6;transform:scaleX(0.8854);transform-origin:0 0;">FILESYSTEM</div>
<div class="t" style="left:557.60px;top:535.10px;font-size:14.53px;line-height:14.53px;color:#e6e6e6;-webkit-text-stroke:0.3px #e6e6e6;transform:scaleX(0.9269);transform-origin:0 0;">317.47 GiB</div>
<div class="t" style="left:685.70px;top:535.10px;font-size:14.53px;line-height:14.53px;color:#e6e6e6;-webkit-text-stroke:0.3px #e6e6e6;transform:scaleX(0.9507);transform-origin:0 0;">4.97 TiB</div>
<div class="t" style="left:826.70px;top:535.10px;font-size:14.53px;line-height:14.53px;color:#e6e6e6;-webkit-text-stroke:0.3px #e6e6e6;letter-spacing:-0.188px;">lz4</div>
<div class="t" style="left:1009.70px;top:535.10px;font-size:14.53px;line-height:14.53px;color:#e6e6e6;-webkit-text-stroke:0.3px #e6e6e6;transform:scaleX(0.9652);transform-origin:0 0;">1.00</div>
<div class="t" style="left:1247.60px;top:535.10px;font-size:14.53px;line-height:14.53px;color:#e6e6e6;-webkit-text-stroke:0.3px #e6e6e6;letter-spacing:-0.099px;">false</div>
<div class="t" style="left:1390.50px;top:535.10px;font-size:14.53px;line-height:14.53px;color:#e6e6e6;-webkit-text-stroke:0.3px #e6e6e6;transform:scaleX(0.8462);transform-origin:0 0;">OFF</div>
<svg style="left:1817.00px;top:523.20px;" width="24.00" height="24.00" viewBox="0 0 24 24"><path fill="#ffffff" d="M12 8c1.1 0 2-.9 2-2s-.9-2-2-2-2 .9-2 2 .9 2 2 2zm0 2c-1.1 0-2 .9-2 2s.9 2 2 2 2-.9 2-2-.9-2-2-2zm0 6c-1.1 0-2 .9-2 2s.9 2 2 2 2-.9 2-2-.9-2-2-2z"/></svg>
<svg style="left:306.00px;top:565.00px;" width="24.00" height="24.00" viewBox="0 0 24 24"><path fill="#ffffff" d="M10 6L8.59 7.41 13.17 12l-4.58 4.59L10 18l6-6z"/></svg>
<div class="t" style="left:327.20px;top:570.90px;font-size:14.53px;line-height:14.53px;color:#e6e6e6;-webkit-text-stroke:0.3px #e6e6e6;transform:scaleX(0.9113);transform-origin:0 0;">S3</div>
<div class="t" style="left:411.50px;top:570.90px;font-size:14.53px;line-height:14.53px;color:#e6e6e6;-webkit-text-stroke:0.3px #e6e6e6;transform:scaleX(0.8854);transform-origin:0 0;">FILESYSTEM</div>
<div class="t" style="left:557.60px;top:570.90px;font-size:14.53px;line-height:14.53px;color:#e6e6e6;-webkit-text-stroke:0.3px #e6e6e6;transform:scaleX(0.9269);transform-origin:0 0;">317.44 GiB</div>
<div class="t" style="left:685.70px;top:570.90px;font-size:14.53px;line-height:14.53px;color:#e6e6e6;-webkit-text-stroke:0.3px #e6e6e6;transform:scaleX(0.9507);transform-origin:0 0;">4.97 TiB</div>
<div class="t" style="left:826.70px;top:570.90px;font-size:14.53px;line-height:14.53px;color:#e6e6e6;-webkit-text-stroke:0.3px #e6e6e6;letter-spacing:-0.198px;">Inherits (lz4)</div>
<div class="t" style="left:1009.70px;top:570.90px;font-size:14.53px;line-height:14.53px;color:#e6e6e6;-webkit-text-stroke:0.3px #e6e6e6;transform:scaleX(0.9652);transform-origin:0 0;">1.00</div>
<div class="t" style="left:1247.60px;top:570.90px;font-size:14.53px;line-height:14.53px;color:#e6e6e6;-webkit-text-stroke:0.3px #e6e6e6;letter-spacing:-0.099px;">false</div>
<div class="t" style="left:1390.50px;top:570.90px;font-size:14.53px;line-height:14.53px;color:#e6e6e6;-webkit-text-stroke:0.3px #e6e6e6;transform:scaleX(0.8462);transform-origin:0 0;">OFF</div>
<svg style="left:1817.00px;top:559.30px;" width="24.00" height="24.00" viewBox="0 0 24 24"><path fill="#ffffff" d="M12 8c1.1 0 2-.9 2-2s-.9-2-2-2-2 .9-2 2 .9 2 2 2zm0 2c-1.1 0-2 .9-2 2s.9 2 2 2 2-.9 2-2-.9-2-2-2zm0 6c-1.1 0-2 .9-2 2s.9 2 2 2 2-.9 2-2-.9-2-2-2z"/></svg>
<div style="left:1641px;top:583px;width:200px;height:357px;background:#282828;border-radius:4px;box-shadow:0 2px 4px -1px rgba(0,0,0,.2),0 4px 5px 0 rgba(0,0,0,.14),0 1px 10px 0 rgba(0,0,0,.12);"></div>
<div style="left:1641px;top:603px;width:200px;height:1px;background:#6e6e6e;"></div>
<div class="t" style="left:1657.80px;top:610.84px;font-size:14.24px;line-height:14.24px;color:#8a8a8a;font-weight:700;transform:scaleX(0.9008);transform-origin:0 0;">Dataset Actions</div>
<div class="t" style="left:1657.80px;top:653.70px;font-size:14.53px;line-height:14.53px;color:#e6e6e6;-webkit-text-stroke:0.3px #e6e6e6;transform:scaleX(0.9502);transform-origin:0 0;">Add Dataset</div>
<div class="t" style="left:1657.80px;top:689.70px;font-size:14.53px;line-height:14.53px;color:#e6e6e6;-webkit-text-stroke:0.3px #e6e6e6;transform:scaleX(0.9485);transform-origin:0 0;">Add Zvol</div>
<div class="t" style="left:1657.80px;top:725.70px;font-size:14.53px;line-height:14.53px;color:#e6e6e6;-webkit-text-stroke:0.3px #e6e6e6;transform:scaleX(0.9460);transform-origin:0 0;">Edit Options</div>
<div class="t" style="left:1657.80px;top:761.70px;font-size:14.53px;line-height:14.53px;color:#e6e6e6;-webkit-text-stroke:0.3px #e6e6e6;transform:scaleX(0.9608);transform-origin:0 0;">Edit Permissions</div>
<div class="t" style="left:1657.80px;top:797.70px;font-size:14.53px;line-height:14.53px;color:#e6e6e6;-webkit-text-stroke:0.3px #e6e6e6;transform:scaleX(0.9340);transform-origin:0 0;">User Quotas</div>
<div class="t" style="left:1657.80px;top:833.70px;font-size:14.53px;line-height:14.53px;color:#e6e6e6;-webkit-text-stroke:0.3px #e6e6e6;transform:scaleX(0.9387);transform-origin:0 0;">Group Quotas</div>
<div class="t" style="left:1657.80px;top:869.70px;font-size:14.53px;line-height:14.53px;color:#e6e6e6;-webkit-text-stroke:0.3px #e6e6e6;transform:scaleX(0.9433);transform-origin:0 0;">Delete Dataset</div>
<div class="t" style="left:1657.80px;top:905.70px;font-size:14.53px;line-height:14.53px;color:#e6e6e6;-webkit-text-stroke:0.3px #e6e6e6;transform:scaleX(0.9396);transform-origin:0 0;">Create Snapshot</div>
</body></html>
